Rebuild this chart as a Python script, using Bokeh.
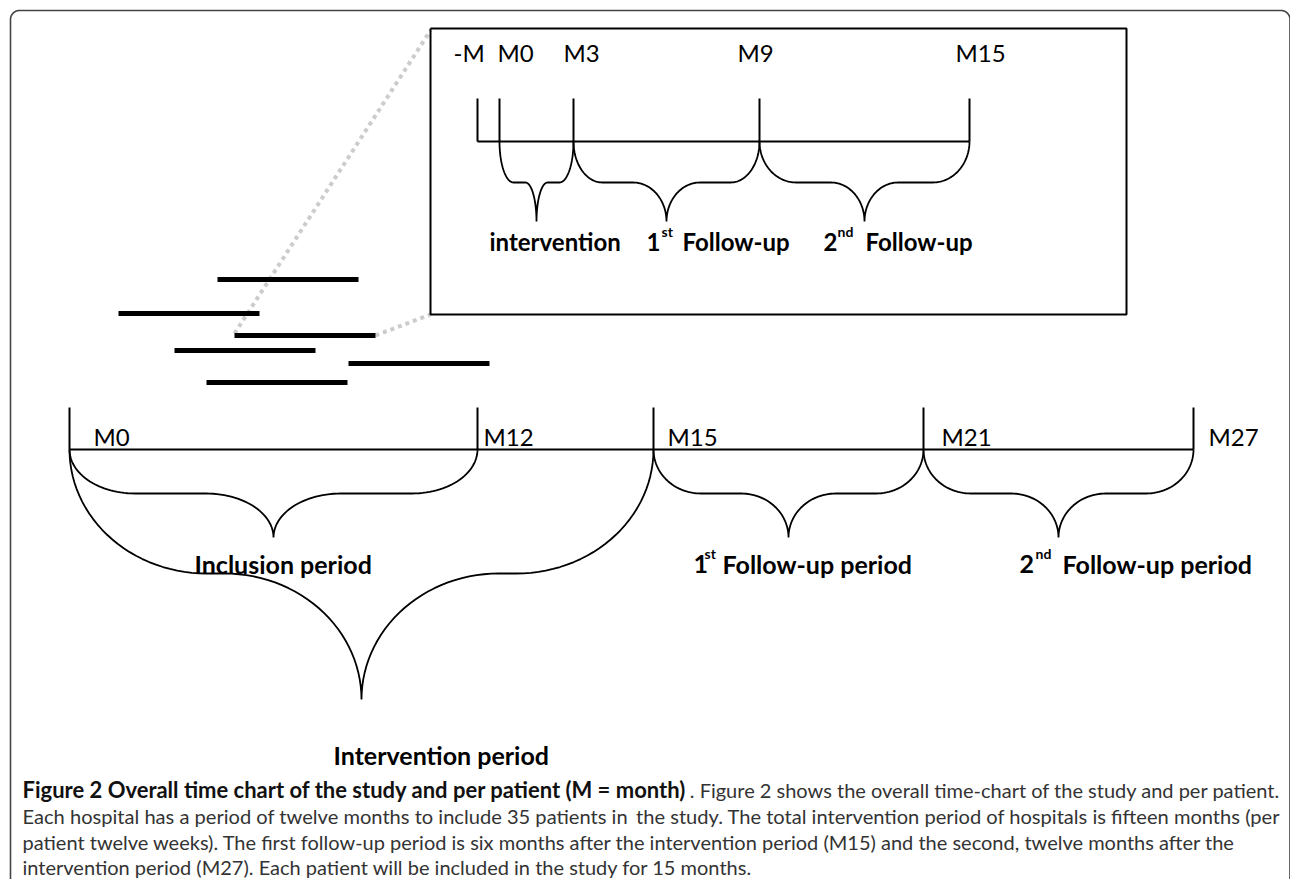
import numpy as np
from bokeh.plotting import figure
from bokeh.models import Range1d
from bokeh.core.properties import value
from bokeh.embed import file_html
from bokeh.resources import INLINE

# ---------------- data (labels / periods) ----------------
main_labels = ["M0", "M12", "M15", "M21", "M27"]
main_months = [0, 12, 15, 21, 27]
inset_labels = ["-M", "M0", "M3", "M9", "M15"]

main_period_names = ["Inclusion period", "Intervention period", "Follow-up period", "Follow-up period"]
main_period_ord = ["", "", "1", "2"]
main_period_sup = ["", "", "st", "nd"]
main_period_from = [0, 0, 2, 3]
main_period_to = [1, 2, 3, 4]

inset_period_names = ["intervention", "Follow-up", "Follow-up"]
inset_period_ord = ["", "1", "2"]
inset_period_sup = ["", "st", "nd"]
inset_period_from = [1, 2, 3]
inset_period_to = [2, 3, 4]

# patients (schematic inclusion bars)
patient_start = [217, 118, 234, 174, 348, 206]
patient_row_y = [279, 313, 335, 350, 363, 382]
patient_len = 141

caption_bold = "Figure 2 Overall time chart of the study and per patient (M = month)"
caption_l1 = ". Figure 2 shows the overall time-chart of the study and per patient."
caption_l2a = "Each hospital has a period of twelve months to include 35 patients in"
caption_l2b = "the study. The total intervention period of hospitals is fifteen months (per"
caption_l3 = "patient twelve weeks). The first follow-up period is six months after the intervention period (M15) and the second, twelve months after the"
caption_l4 = "intervention period (M27). Each patient will be included in the study for 15 months."

# ---------------- layout ----------------
W, H = 1290, 879
main_tick_x = [69, 477, 653, 923, 1193]
main_label_x = [93, 483, 667, 941, 1208]
main_tick_top, main_axis_y = 407, 449
main_label_base = 436

inset_tick_x = [477, 499, 573, 759, 969]
inset_label_x = [453, 497, 563, 737, 955]
inset_tick_top, inset_axis_y = 98, 141
inset_label_base = 52
inset_box = (430, 28, 1126, 314)

FONT = value("Lato")

p = figure(width=W, height=H, x_range=Range1d(0, W), y_range=Range1d(H, 0),
           output_backend="svg", toolbar_location=None, min_border=0,
           outline_line_color=None, x_axis_location=None, y_axis_location=None,
           background_fill_color="white", border_fill_color="white")
p.grid.visible = False


def brace(xa, xb, y0, y1, y2, fe, ft, n=30):
    half = (xb - xa) / 2.0
    xm = xa + half
    re, rt = fe * half, ft * half
    t = np.linspace(0, np.pi / 2, n)
    lx = (xa + re) - re * np.cos(t)
    ly = y0 + (y1 - y0) * np.sin(t)
    tx = (xm - rt) + rt * np.sin(t)
    ty = y2 - (y2 - y1) * np.cos(t)
    xs_left = np.concatenate([lx, tx])
    ys_left = np.concatenate([ly, ty])
    xs_right = 2 * xm - xs_left[::-1]
    ys_right = ys_left[::-1]
    return list(np.concatenate([xs_left, xs_right])), list(np.concatenate([ys_left, ys_right]))


# ---- outer rounded frame ----
r = 9
right = 1289.5
t = np.linspace(np.pi, 1.5 * np.pi, 20)
fx = [10, 10] + list(10 + r + r * np.cos(t)) + [right - r]
fy = [900, 10 + r] + list(10 + r + r * np.sin(t)) + [10]
t2 = np.linspace(1.5 * np.pi, 2 * np.pi, 20)
fx += list(right - r + r * np.cos(t2)) + [right]
fy += list(10 + r + r * np.sin(t2)) + [900]
p.line(fx, fy, line_color="#444444", line_width=1.6)

# ---- dotted zoom lines ----
p.line([patient_start[2], inset_box[0]], [patient_row_y[2] - 2, inset_box[1] + 2],
       line_color="#cccccc", line_width=4, line_dash="4 4")
p.line([patient_start[2] + patient_len, inset_box[0]], [patient_row_y[2], inset_box[3]],
       line_color="#cccccc", line_width=4, line_dash="4 4")

# ---- patient bars ----
p.segment(x0=patient_start, y0=patient_row_y,
          x1=[s + patient_len for s in patient_start], y1=patient_row_y,
          line_color="black", line_width=5)

# ---- inset box ----
bx0, by0, bx1, by1 = inset_box
p.line([bx0, bx1, bx1, bx0, bx0], [by0, by0, by1, by1, by0], line_color="black", line_width=2)

# ---- main timeline ----
p.segment(x0=main_tick_x, y0=[main_tick_top] * 5, x1=main_tick_x, y1=[main_axis_y] * 5,
          line_color="black", line_width=2)
p.line([main_tick_x[0], main_tick_x[-1]], [main_axis_y, main_axis_y], line_color="black", line_width=2)
p.text(x=main_label_x, y=[main_label_base] * 5, text=main_labels, text_font=FONT,
       text_font_size="24px", text_baseline="alphabetic", text_color="black")

main_brace_levels = [(493, 537, 0.32, 0.33), (573, 699, 0.47, 0.47), (493, 537, 0.35, 0.35), (493, 537, 0.35, 0.35)]
bxs, bys = [], []
for i in range(4):
    xa, xb = main_tick_x[main_period_from[i]], main_tick_x[main_period_to[i]]
    y1, y2, fe, ft = main_brace_levels[i]
    xs, ys = brace(xa, xb, main_axis_y, y1, y2, fe, ft)
    bxs.append(xs); bys.append(ys)
p.multi_line(bxs, bys, line_color="black", line_width=1.8)

main_lab_x = [194, 333, 722, 1062]
main_lab_y = [563, 754, 563, 563]
for i in range(4):
    p.text(x=[main_lab_x[i]], y=[main_lab_y[i]], text=[main_period_names[i]], text_font=FONT,
           text_font_style="bold", text_font_size="25px", text_baseline="alphabetic",
           text_align="left", text_color="black")
ord_x = [None, None, 693, 1019]
sup_x = [None, None, 704, 1035]
for i in (2, 3):
    p.text(x=[ord_x[i]], y=[main_lab_y[i]], text=[main_period_ord[i]], text_font=FONT,
           text_font_style="bold", text_font_size="25px", text_baseline="alphabetic")
    p.text(x=[sup_x[i]], y=[main_lab_y[i] - 10], text=[main_period_sup[i]], text_font=FONT,
           text_font_style="bold", text_font_size="14px", text_baseline="alphabetic")

# ---- inset timeline ----
p.segment(x0=inset_tick_x, y0=[inset_tick_top] * 5, x1=inset_tick_x, y1=[inset_axis_y] * 5,
          line_color="black", line_width=2)
p.line([inset_tick_x[0], inset_tick_x[-1]], [inset_axis_y, inset_axis_y], line_color="black", line_width=2)
p.text(x=inset_label_x, y=[inset_label_base] * 5, text=inset_labels, text_font=FONT,
       text_font_size="24px", text_baseline="alphabetic", text_color="black")

inset_brace_shape = [(0.38, 0.30), (0.31, 0.36), (0.35, 0.32)]
ixs, iys = [], []
for i in range(3):
    xa, xb = inset_tick_x[inset_period_from[i]], inset_tick_x[inset_period_to[i]]
    fe, ft = inset_brace_shape[i]
    xs, ys = brace(xa, xb, inset_axis_y, 182, 221, fe, ft)
    ixs.append(xs); iys.append(ys)
p.multi_line(ixs, iys, line_color="black", line_width=1.8)

inset_lab_x = [489, 682, 865]
for i in range(3):
    p.text(x=[inset_lab_x[i]], y=[241], text=[inset_period_names[i]], text_font=FONT,
           text_font_style="bold", text_font_size="24px", text_baseline="alphabetic")
iord_x = [None, 646, 823]
isup_x = [None, 661, 837]
for i in (1, 2):
    p.text(x=[iord_x[i]], y=[241], text=[inset_period_ord[i]], text_font=FONT,
           text_font_style="bold", text_font_size="24px", text_baseline="alphabetic")
    p.text(x=[isup_x[i]], y=[231], text=[inset_period_sup[i]], text_font=FONT,
           text_font_style="bold", text_font_size="14px", text_baseline="alphabetic")

# ---- caption ----
CF = value("Lato")
reg = "20px"
base = [789, 815, 841, 866]
p.text(x=[22], y=[base[0]], text=[caption_bold], text_font=CF, text_font_style="bold",
       text_font_size="22px", text_baseline="alphabetic", text_color="#111111")
p.text(x=[1280], y=[base[0]], text=[caption_l1], text_font=CF, text_font_size=reg,
       text_baseline="alphabetic", text_align="right", text_color="#333333")
p.text(x=[22], y=[base[1]], text=[caption_l2a], text_font=CF, text_font_size="20.1px",
       text_baseline="alphabetic", text_color="#333333")
p.text(x=[1280], y=[base[1]], text=[caption_l2b], text_font=CF, text_font_size="20.1px",
       text_baseline="alphabetic", text_align="right", text_color="#333333")
p.text(x=[22], y=[base[2]], text=[caption_l3], text_font=CF, text_font_size=reg,
       text_baseline="alphabetic", text_color="#333333")
p.text(x=[22], y=[base[3]], text=[caption_l4], text_font=CF, text_font_size=reg,
       text_baseline="alphabetic", text_color="#333333")

open("out.html", "w").write(file_html(p, INLINE))
